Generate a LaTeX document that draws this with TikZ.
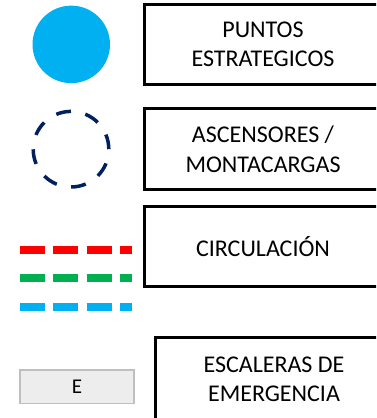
\documentclass[tikz,border=0pt]{standalone}
\usepackage{fontspec}
\setmainfont{Carlito}
\usetikzlibrary{positioning}
\definecolor{skyblue}{HTML}{00B0F0}
\definecolor{navy}{HTML}{002060}
\definecolor{redline}{HTML}{FF0000}
\definecolor{greenline}{HTML}{00B050}
\definecolor{lightgrey}{HTML}{EDEDED}
\definecolor{midgrey}{HTML}{BFBFBF}

\begin{document}
\begin{tikzpicture}[
  x=1pt, y=1pt,
  node distance=24pt and 34pt,
  labelbox/.style={draw=black, line width=3pt, outer sep=0pt, inner sep=0pt, minimum width=238pt, minimum height=80.5pt, align=center, font=\fontsize{24}{29.5}\selectfont},
  dot/.style={circle, fill=skyblue, outer sep=0pt, inner sep=0pt, minimum size=77.5pt},
  lift/.style={circle, draw=navy, line width=3.5pt, dash pattern=on 15pt off 14.7pt, outer sep=0pt, inner sep=0pt, minimum size=75.6pt},
  route/.style={line width=8pt, dash pattern=on 25pt off 8.3pt},
  exitbox/.style={draw=midgrey, fill=lightgrey, line width=1.3pt, inner sep=0pt, minimum width=114pt, minimum height=33.7pt, font=\fontsize{21}{25}\selectfont}
]
\useasboundingbox (0,0) rectangle (376,418);
\clip (0,0) rectangle (376,418);

\node[labelbox] (puntos) at (263,373.6) {PUNTOS\\ESTRATEGICOS};
\node[labelbox, below=24.3pt of puntos] (ascensores) {ASCENSORES /\\MONTACARGAS};
\node[labelbox, below=17pt of ascensores] (circulacion) {CIRCULACI\'ON};
\node[labelbox, minimum height=84pt, below=50.5pt of circulacion, xshift=11pt] (escaleras) {ESCALERAS DE\\EMERGENCIA};

\node[dot, left=34pt of puntos] (dotmark) {};
\node[lift, left=35.2pt of ascensores] (liftmark) {};
\foreach \c/\y in {redline/168, greenline/140, skyblue/110.5}
  \draw[route, \c] (20,\y) -- (132,\y);
\node[exitbox] (exitmark) at (77,31.2) {E};
\end{tikzpicture}
\end{document}
